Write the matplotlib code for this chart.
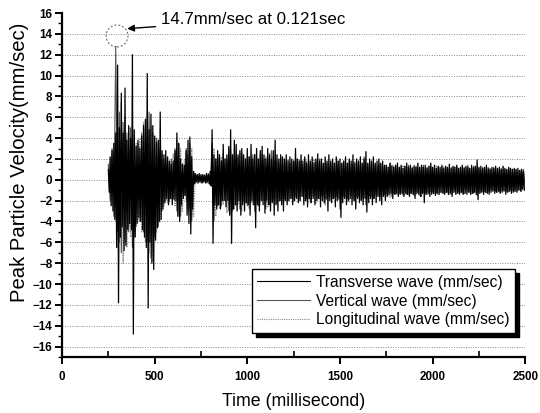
import numpy as np
import matplotlib
matplotlib.use("Agg")
import matplotlib.pyplot as plt
from matplotlib.patches import Ellipse

plt.rcParams['font.family'] = ['Liberation Sans', 'DejaVu Sans']

# ---------------- data ----------------
series_names = ["Transverse wave (mm/sec)", "Vertical wave (mm/sec)", "Longitudinal wave (mm/sec)"]

# Transverse wave: 10 ms bins starting at 250 ms, positive / negative peaks
trans_start, trans_step = 250, 10
trans_hi = [1.0, 2.2, 2.8, 3.5, 4.5, 11.0, 5.0, 8.3, 4.5, 8.8,
            3.8, 5.2, 4.0, 12.0, 4.8, 3.2, 3.8, 3.0, 4.2, 5.2,
            5.8, 10.2, 4.8, 6.3, 5.2, 4.2, 3.6, 3.8, 6.5, 2.8,
            2.4, 2.8, 2.2, 1.8, 1.5, 1.8, 2.8, 4.5, 3.5, 2.0,
            1.5, 1.4, 2.8, 3.8, 4.1, 2.2, 0.8, 0.6, 0.5, 0.6,
            0.5, 0.5, 0.4, 0.6, 0.5, 0.8, 4.8, 2.4, 2.0, 2.8,
            2.4, 1.8, 3.4, 2.0, 2.4, 3.2, 4.8, 2.4, 3.8, 3.4,
            2.4, 2.8, 3.0, 2.4, 2.0, 3.0, 2.2, 3.4, 2.0, 2.4,
            3.0, 2.0, 2.8, 3.2, 2.4, 2.0, 3.0, 2.4, 2.0, 2.8,
            3.8, 2.4, 2.0, 2.4, 2.2, 2.0, 2.4, 1.8, 2.2, 2.0,
            1.8, 3.0, 2.0, 1.8, 2.4, 1.8, 2.2, 1.6, 2.4, 1.8,
            2.2, 1.6, 2.0, 2.5, 1.8, 2.0, 1.6, 2.2, 1.8, 2.4,
            1.8, 2.0, 1.6, 2.2, 1.8, 2.0, 1.6, 1.8, 2.2, 1.6,
            2.0, 1.8, 2.4, 1.6, 2.0, 1.8, 2.2, 1.6, 2.0, 2.7,
            1.6, 2.0, 1.8, 2.2, 1.6, 1.8, 2.0, 1.6, 1.8, 1.4,
            1.4, 1.2, 1.6, 1.3, 1.2, 1.4, 1.6, 1.2, 1.4, 1.1,
            1.3, 1.6, 1.2, 1.4, 1.1, 1.3, 1.2, 1.6, 1.2, 1.4,
            1.2, 1.4, 1.1, 1.3, 1.6, 1.2, 1.4, 1.1, 1.3, 1.2,
            1.4, 1.1, 1.3, 1.2, 1.5, 1.1, 1.3, 1.2, 1.4, 1.1,
            1.2, 1.4, 1.1, 1.3, 1.2, 1.1, 1.4, 1.2, 1.3, 1.9,
            1.2, 1.3, 1.1, 1.2, 1.4, 1.1, 1.0, 1.2, 1.1, 1.3,
            1.1, 1.2, 1.0, 1.3, 1.1, 1.0, 1.2, 1.1, 1.0, 1.1,
            1.0, 1.1, 0.9, 1.0, 0.8]
trans_lo = [-1.2, -2.5, -3.0, -3.8, -6.5, -11.8, -5.5, -4.5, -6.8, -6.3,
            -4.8, -4.2, -4.8, -14.8, -5.5, -4.2, -3.6, -4.0, -4.8, -5.5,
            -6.5, -12.3, -6.0, -8.0, -8.6, -5.8, -4.6, -4.0, -3.8, -2.8,
            -2.2, -1.8, -2.4, -1.8, -2.4, -1.9, -2.0, -3.5, -4.0, -2.4,
            -1.8, -1.5, -3.4, -4.2, -5.2, -2.8, -0.4, -0.2, -0.3, -0.2,
            -0.3, -0.2, -0.3, -0.2, -0.4, -0.6, -6.1, -2.4, -2.8, -2.4,
            -2.8, -2.0, -2.0, -2.6, -2.0, -3.4, -6.1, -2.8, -2.4, -3.0,
            -2.0, -3.4, -2.4, -3.0, -2.2, -2.4, -3.4, -2.0, -2.4, -4.6,
            -2.4, -3.0, -2.0, -2.4, -3.2, -2.0, -2.4, -3.0, -2.2, -3.4,
            -2.4, -3.0, -2.0, -2.4, -3.0, -2.0, -2.4, -2.0, -1.8, -2.4,
            -2.0, -1.8, -2.2, -2.0, -1.6, -2.4, -2.0, -2.6, -1.8, -2.2,
            -1.8, -2.4, -2.0, -1.8, -2.6, -2.0, -2.2, -1.8, -3.0, -2.0,
            -2.2, -1.8, -2.6, -2.0, -1.8, -3.6, -2.2, -1.8, -2.4, -2.0,
            -1.8, -2.4, -2.0, -2.8, -1.8, -2.2, -2.0, -2.4, -1.8, -3.1,
            -2.2, -1.8, -2.4, -1.8, -2.2, -1.6, -2.0, -2.4, -1.6, -2.0,
            -1.6, -1.4, -1.3, -1.8, -1.4, -1.3, -1.6, -1.4, -1.3, -1.6,
            -1.3, -1.4, -1.6, -1.3, -1.4, -1.8, -1.3, -1.4, -1.6, -1.3,
            -2.2, -1.4, -1.3, -1.6, -1.4, -1.3, -1.5, -1.3, -1.4, -1.2,
            -1.3, -1.4, -1.2, -1.4, -1.3, -1.6, -1.2, -1.4, -1.3, -1.4,
            -1.2, -1.4, -1.3, -1.4, -1.2, -1.4, -1.3, -1.2, -1.4, -1.9,
            -1.3, -1.2, -1.4, -1.2, -1.3, -1.4, -1.2, -1.1, -1.3, -1.2,
            -1.1, -1.3, -1.2, -1.1, -1.4, -1.2, -1.1, -1.3, -1.2, -1.1,
            -1.2, -1.0, -1.1, -0.9, -1.0]

# Vertical wave: 20 ms bins starting at 250 ms
vert_start, vert_step = 250, 20
vert_hi = [1.5, 3.0, 12.8, 6.5, 5.5, 4.5, 5.0, 4.0, 3.5, 4.5,
           5.0, 6.5, 4.5, 4.0, 3.0, 2.0, 1.8, 2.0, 3.0, 3.5,
           1.5, 3.0, 3.5, 0.6, 0.5, 0.4, 0.5, 0.6, 3.5, 2.0,
           2.0, 2.5, 2.0, 2.8, 2.5, 2.2, 2.5, 2.0, 2.2, 2.4,
           2.2, 2.5, 2.0, 2.2, 2.8, 2.0, 1.8, 2.0, 1.8, 1.6,
           1.8, 1.6, 1.8, 2.0, 1.5, 1.6, 1.8, 2.0, 1.5, 1.6,
           1.6, 1.5, 1.8, 1.6, 1.4, 1.8, 1.5, 1.6, 1.4, 2.2,
           1.5, 1.6, 1.4, 1.5, 1.3, 1.4, 1.6, 1.3, 1.4, 1.2,
           1.3, 1.4, 1.2, 1.3, 1.2, 1.4, 1.2, 1.3, 1.1, 1.2,
           1.2, 1.3, 1.1, 1.2, 1.3, 1.1, 1.2, 1.4, 1.1, 1.3,
           1.1, 1.2, 1.0, 1.1, 1.2, 1.0, 1.1, 1.0, 1.1, 1.0,
           1.0, 0.9, 1.0]
vert_lo = [-2.0, -3.5, -5.0, -7.0, -6.0, -5.0, -6.5, -4.5, -4.0, -5.0,
           -6.0, -7.5, -5.5, -4.5, -3.0, -2.0, -2.0, -1.8, -3.0, -3.5,
           -1.5, -3.0, -4.0, -0.3, -0.2, -0.3, -0.3, -0.5, -4.0, -2.5,
           -2.5, -2.0, -3.0, -3.0, -2.5, -2.8, -2.0, -2.5, -2.2, -3.0,
           -2.5, -2.0, -2.8, -2.4, -2.0, -2.2, -2.0, -1.8, -2.0, -1.8,
           -1.6, -2.0, -1.6, -1.8, -2.2, -1.6, -1.8, -1.5, -2.4, -1.6,
           -1.8, -1.6, -2.8, -1.6, -1.8, -1.6, -2.0, -1.6, -1.8, -2.4,
           -1.6, -1.8, -1.5, -1.6, -1.4, -1.5, -1.6, -1.4, -1.3, -1.5,
           -1.4, -1.3, -1.5, -1.2, -1.6, -1.3, -1.4, -1.2, -1.3, -1.2,
           -1.3, -1.2, -1.4, -1.1, -1.2, -1.3, -1.1, -1.2, -1.3, -1.5,
           -1.2, -1.1, -1.2, -1.0, -1.1, -1.2, -1.0, -1.1, -1.0, -1.1,
           -1.0, -1.1, -0.9]

# Longitudinal wave: 20 ms bins starting at 260 ms
long_start, long_step = 260, 20
long_hi = [2.0, 3.5, 5.0, 7.5, 6.0, 5.0, 4.0, 3.5, 4.0, 5.5,
           6.0, 5.0, 4.0, 3.5, 2.5, 2.0, 1.6, 2.5, 3.8, 3.0,
           1.8, 2.5, 3.0, 0.5, 0.4, 0.5, 0.4, 0.8, 3.0, 2.5,
           2.2, 2.0, 3.0, 2.4, 2.0, 2.6, 2.2, 2.4, 2.0, 2.5,
           2.0, 2.4, 2.2, 2.6, 2.0, 1.8, 2.2, 1.6, 2.0, 1.8,
           1.6, 2.0, 1.5, 1.8, 1.6, 2.0, 1.6, 1.8, 1.6, 1.5,
           1.8, 1.6, 1.5, 1.8, 1.6, 1.5, 1.8, 1.4, 1.6, 1.5,
           1.4, 1.5, 1.3, 1.6, 1.4, 1.3, 1.5, 1.4, 1.2, 1.4,
           1.2, 1.3, 1.4, 1.2, 1.3, 1.1, 1.3, 1.2, 1.4, 1.1,
           1.3, 1.1, 1.2, 1.3, 1.1, 1.4, 1.2, 1.1, 1.3, 1.2,
           1.0, 1.1, 1.2, 1.0, 1.1, 1.0, 1.2, 1.0, 1.1, 1.0,
           0.9, 1.0]
long_lo = [-2.5, -4.0, -6.0, -8.0, -6.5, -5.5, -4.5, -4.0, -5.0, -6.0,
           -7.0, -7.8, -5.0, -4.0, -2.5, -2.2, -1.8, -2.5, -3.5, -3.0,
           -2.0, -2.8, -3.5, -0.4, -0.3, -0.2, -0.4, -0.6, -3.5, -2.8,
           -2.4, -3.2, -2.2, -2.8, -2.4, -3.0, -2.2, -2.8, -2.4, -2.2,
           -2.4, -2.0, -2.6, -2.2, -2.4, -2.0, -2.2, -2.0, -1.8, -2.0,
           -1.8, -1.6, -2.0, -1.8, -1.6, -2.2, -1.8, -1.6, -2.0, -1.8,
           -1.6, -2.0, -1.8, -1.6, -2.2, -1.8, -1.6, -2.0, -1.6, -1.8,
           -1.5, -1.4, -1.6, -1.5, -1.4, -1.7, -1.4, -1.5, -1.3, -1.4,
           -1.5, -1.3, -1.4, -1.6, -1.3, -1.4, -1.2, -1.3, -1.4, -1.2,
           -1.3, -1.4, -1.2, -1.3, -1.2, -1.4, -1.2, -1.3, -1.2, -1.3,
           -1.1, -1.2, -1.0, -1.1, -1.2, -1.0, -1.1, -1.2, -1.0, -1.1,
           -1.0, -0.9]

peak_time, peak_value = 297, 13.8
annot_text = "14.7mm/sec at 0.121sec"
x_ticks = [0, 500, 1000, 1500, 2000, 2500]
y_ticks = list(range(-16, 17, 2))


def zigzag(start, step, hi, lo):
    starts = start + step * np.arange(len(hi))
    x = np.empty(2 * len(hi))
    y = np.empty(2 * len(hi))
    x[0::2] = starts
    x[1::2] = starts + step / 2
    y[0::2] = hi
    y[1::2] = lo
    return x, y

# ---------------- figure ----------------
fig = plt.figure(figsize=(5.4, 4.13), dpi=100)
ax = fig.add_axes([0.1148, 0.1356, 0.858, 0.8329])

ax.set_xlim(0, 2500)
ax.set_ylim(-17, 16)

for yv in y_ticks[:-1]:
    ax.axhline(yv, color='#888888', lw=0.7, ls=(0, (1, 1.5)), zorder=0)

xl, yl = zigzag(long_start, long_step, long_hi, long_lo)
xv, yv_ = zigzag(vert_start, vert_step, vert_hi, vert_lo)
xt, yt = zigzag(trans_start, trans_step, trans_hi, trans_lo)

l3, = ax.plot(xl, yl, color='#8a8a8a', lw=0.9, ls=(0, (1, 1)), label=series_names[2], zorder=2)
l2, = ax.plot(xv, yv_, color='#555555', lw=0.8, label=series_names[1], zorder=3)
l1, = ax.plot(xt, yt, color='#000000', lw=0.9, label=series_names[0], zorder=4)

# annotation circle + arrow
ax.add_patch(Ellipse((peak_time, peak_value), 118, 2.1, fill=False, ls=(0, (2, 2)),
                     lw=0.7, ec='#555555', zorder=5))
ax.annotate(annot_text, xy=(352, 14.5), xytext=(535, 15.35), fontsize=12.2,
            va='center', ha='left',
            arrowprops=dict(arrowstyle='-|>', color='black', lw=1.0,
                            mutation_scale=10, shrinkA=2, shrinkB=0))

# axes styling
for s in ['top', 'right']:
    ax.spines[s].set_visible(False)
for s in ['left', 'bottom']:
    ax.spines[s].set_linewidth(1.6)

ax.set_xticks(x_ticks)
ax.set_yticks(y_ticks)
ax.set_xticks(np.arange(250, 2500, 500), minor=True)
ax.set_yticks(np.arange(-17, 16, 1), minor=True)
ax.tick_params(axis='both', which='major', direction='out', length=5, width=1.4,
               labelsize=8.4)
ax.tick_params(axis='x', which='minor', direction='in', length=4, width=1.2)
ax.tick_params(axis='y', which='minor', direction='out', length=3, width=1.0)
for lab in ax.get_xticklabels() + ax.get_yticklabels():
    lab.set_fontweight('bold')
ax.tick_params(axis='x', pad=5)
ax.tick_params(axis='y', pad=2)

ax.set_xlabel("Time (millisecond)", fontsize=12.8, labelpad=7)
ax.set_ylabel("Peak Particle Velocity(mm/sec)", fontsize=14.6)
ax.yaxis.set_label_coords(-0.072, 0.567)

leg = ax.legend(handles=[l1, l2, l3], loc='lower right', bbox_to_anchor=(0.978, 0.07),
                fontsize=11.2, frameon=True, fancybox=False,
                shadow={'color': 'black', 'alpha': 1.0, 'ox': 3, 'oy': -3},
                handlelength=3.4, handletextpad=0.4, borderpad=0.35, labelspacing=0.25,
                borderaxespad=0)
leg.get_frame().set_edgecolor('black')
leg.get_frame().set_linewidth(1.0)
for h in leg.get_lines():
    h.set_linewidth(0.8)

fig.savefig("out.png", dpi=100)
